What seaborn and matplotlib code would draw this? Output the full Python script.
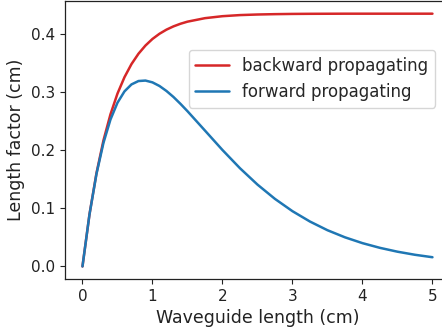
import matplotlib
matplotlib.use('Agg')
import matplotlib.pyplot as plt
import seaborn as sns

# waveguide length (cm)
length = [0.0, 0.1, 0.2, 0.3, 0.4, 0.5, 0.6, 0.7, 0.8, 0.9, 1.0,
          1.1, 1.2, 1.3, 1.4, 1.5, 1.75, 2.0, 2.25, 2.5, 2.75, 3.0,
          3.25, 3.5, 3.75, 4.0, 4.25, 4.5, 4.75, 5.0]

# length factor (cm)
backward = [0.0, 0.0893, 0.1602, 0.2166, 0.2613, 0.2969, 0.3251, 0.3476, 0.3654, 0.3795, 0.3908,
            0.3997, 0.4068, 0.4124, 0.4169, 0.4205, 0.4265, 0.4299, 0.4318, 0.4328, 0.4334, 0.4338,
            0.4340, 0.4341, 0.4342, 0.4342, 0.4342, 0.4342, 0.4342, 0.4342]
forward = [0.0, 0.0891, 0.1589, 0.2124, 0.2524, 0.2812, 0.3007, 0.3127, 0.3185, 0.3193, 0.3162,
           0.3100, 0.3014, 0.2911, 0.2793, 0.2667, 0.2334, 0.2000, 0.1687, 0.1406, 0.1160, 0.0949,
           0.0771, 0.0622, 0.0500, 0.0400, 0.0319, 0.0253, 0.0200, 0.0158]

sns.set_style('ticks')
plt.rcParams['font.family'] = ['DejaVu Sans']

fig = plt.figure(figsize=(4.42, 3.33), dpi=100)
# the original picture is cropped on the right, so the axes run past the edge
ax = fig.add_axes([0.147, 0.162, 0.871, 0.835])

sns.lineplot(x=length, y=backward, color='#d62728', linewidth=1.8, label='backward propagating', ax=ax)
sns.lineplot(x=length, y=forward, color='#1f77b4', linewidth=1.8, label='forward propagating', ax=ax)

ax.set_xlim(-0.25, 5.25)
ax.set_ylim(-0.0217, 0.456)
ax.set_xticks([0, 1, 2, 3, 4, 5])
ax.set_yticks([0.0, 0.1, 0.2, 0.3, 0.4])
ax.set_yticklabels(['0.0', '0.1', '0.2', '0.3', '0.4'])
ax.tick_params(labelsize=11, length=3.5, width=0.8, colors='#222222', labelcolor='#222222')
for s in ax.spines.values():
    s.set_color('#222222')
    s.set_linewidth(0.9)

ax.set_xlabel('Waveguide length (cm)', fontsize=12.5, color='#222222')
ax.set_ylabel('Length factor (cm)', fontsize=12.5, color='#222222')

ax.legend(loc='upper right', bbox_to_anchor=(0.961, 0.824), borderaxespad=0,
          fontsize=12, frameon=True, fancybox=True, framealpha=0.8, edgecolor='#cccccc')

fig.savefig('out.png', dpi=100)
